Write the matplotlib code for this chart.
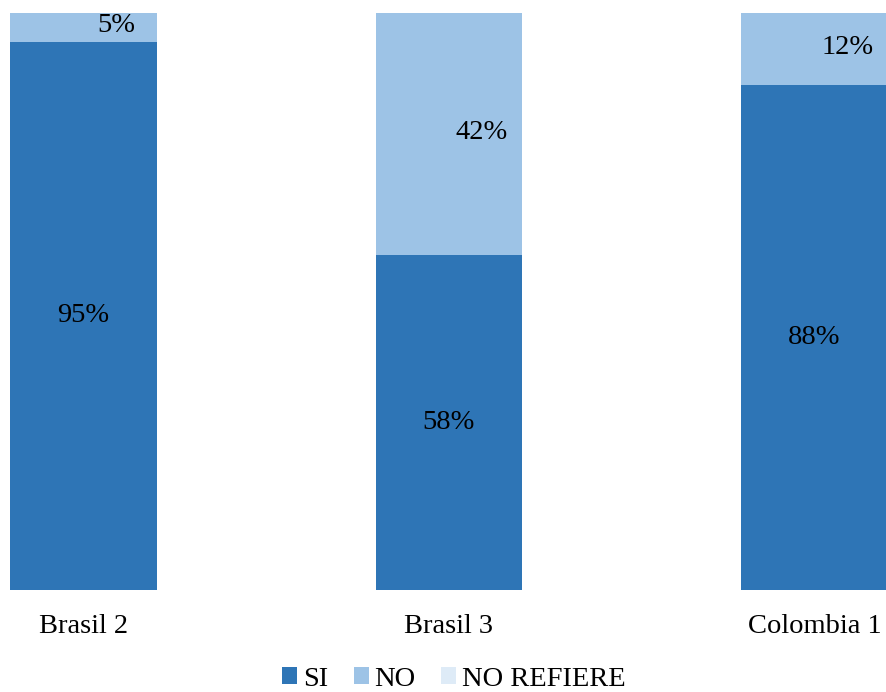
import matplotlib
matplotlib.use("Agg")
import matplotlib.pyplot as plt
import numpy as np

categories = ["Brasil 2", "Brasil 3", "Colombia 1"]
si = [95, 58, 87.5]
no = [5, 42, 12.5]
no_refiere = [0, 0, 0]
series_names = ["SI", "NO", "NO REFIERE"]
colors = ["#2E75B6", "#9DC3E6", "#DEEBF7"]

plt.rcParams['font.family'] = ['Liberation Serif', 'DejaVu Serif']

fig = plt.figure(figsize=(8.86, 6.92), dpi=100)
ax = fig.add_axes([0, 0.1474, 1.0, 0.8338])

x = np.arange(len(categories))
w = 0.4
b1 = ax.bar(x, si, w, color=colors[0], label=series_names[0])
b2 = ax.bar(x, no, w, bottom=si, color=colors[1], label=series_names[1])
bot3 = np.array(si) + np.array(no)
b3 = ax.bar(x, no_refiere, w, bottom=bot3, color=colors[2], label=series_names[2])

fs = 20.5
for xi, v in zip(x, si):
    ax.text(xi, v / 2, f"{round(v)}%", ha='center', va='center', fontsize=fs)
for xi, s, v in zip(x, si, no):
    ax.text(xi + 0.09, s + v / 2 + 0.3, f"{round(v)}%", ha='center', va='center', fontsize=fs)

ax.set_xlim(-83.5 / 365.5, (886 - 83.5) / 365.5)
ax.set_ylim(0, 100)
ax.set_xticks(x)
ax.set_xticklabels(categories, fontsize=fs)
ax.tick_params(axis='x', length=0, pad=17)
ax.set_yticks([])
for sp in ax.spines.values():
    sp.set_visible(False)

leg = fig.legend(handles=[b1, b2, b3], labels=series_names, loc='center',
                 bbox_to_anchor=(0.5124, 0.0185), ncol=3, frameon=False,
                 fontsize=fs, handlelength=0.53, handleheight=0.53,
                 handletextpad=0.2, columnspacing=0.9)

fig.savefig("out.png", dpi=100)
